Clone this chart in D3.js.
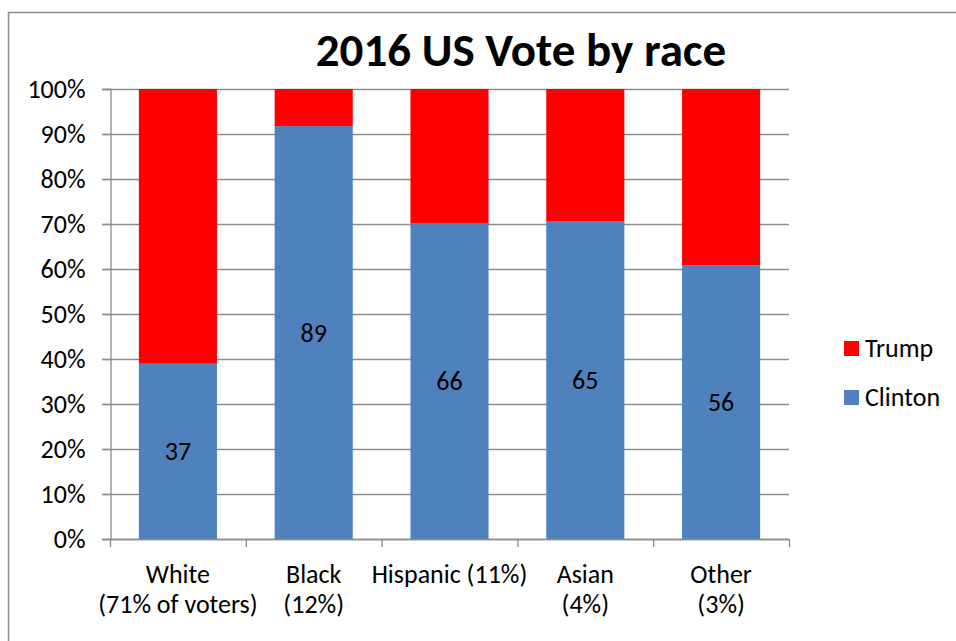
<!DOCTYPE html>
<html>
<head>
<meta charset="utf-8">
<script src="https://cdn.jsdelivr.net/npm/d3@7"></script>
<style>
  html, body { margin: 0; padding: 0; background: #fff; }
  svg { display: block; }
  text { font-family: Calibri, Carlito, Lato, "Open Sans", sans-serif; fill: #000; }
</style>
</head>
<body>
<svg id="chart" width="956" height="641"></svg>
<script>
// ---- data ----
const categories = ["White", "Black", "Hispanic", "Asian", "Other"];
const categoryLabels = [
  ["White", "(71% of voters)"],
  ["Black", "(12%)"],
  ["Hispanic (11%)"],
  ["Asian", "(4%)"],
  ["Other", "(3%)"]
];
const clinton = [37, 89, 66, 65, 56];
const trump = [58, 8, 28, 27, 36];
const seriesNames = ["Clinton", "Trump"];
const seriesColors = ["#4F81BD", "#FF0000"];
const yTicks = [0, 0.1, 0.2, 0.3, 0.4, 0.5, 0.6, 0.7, 0.8, 0.9, 1.0];
const title = "2016 US Vote by race";

// ---- layout ----
const svg = d3.select("#chart");
const plot = { left: 110, right: 789, top: 89, bottom: 539 };
const FONT = 26;

// outer frame (cropped at right/bottom)
svg.append("rect")
  .attr("x", 8.5).attr("y", 12.5)
  .attr("width", 1000).attr("height", 700)
  .attr("fill", "none").attr("stroke", "#8c8c8c").attr("stroke-width", 1.5);

const x = d3.scaleBand().domain(categories)
  .range([plot.left, plot.right])
  .paddingInner(0.425).paddingOuter(0.2125);
const y = d3.scaleLinear().domain([0, 1]).range([plot.bottom, plot.top]);

// gridlines
svg.append("g").selectAll("line").data(yTicks).join("line")
  .attr("x1", plot.left - 8).attr("x2", plot.right)
  .attr("y1", d => Math.round(y(d)) + 0.5).attr("y2", d => Math.round(y(d)) + 0.5)
  .attr("stroke", "#8c8c8c").attr("stroke-width", 1.3);

// y axis
const yAxis = svg.append("g")
  .attr("transform", `translate(${plot.left + 0.5},0)`)
  .call(d3.axisLeft(y).tickValues(yTicks).tickFormat(d3.format(".0%")).tickSize(8).tickPadding(17));
yAxis.select(".domain").attr("stroke", "#8c8c8c").attr("stroke-width", 1.3);
yAxis.selectAll(".tick line").attr("stroke", "#8c8c8c").attr("stroke-width", 1.3);
yAxis.selectAll(".tick text")
  .style("font-family", "Calibri, Carlito, Lato, sans-serif")
  .style("font-size", FONT + "px").attr("fill", "#000");

// stacked data
const rows = categories.map((c, i) => {
  const tot = clinton[i] + trump[i];
  return { cat: c, Clinton: clinton[i] / tot, Trump: trump[i] / tot, cv: clinton[i] };
});
const stack = d3.stack().keys(seriesNames)(rows);
const color = d3.scaleOrdinal().domain(seriesNames).range(seriesColors);

svg.append("g").selectAll("g").data(stack).join("g")
  .attr("fill", d => color(d.key))
  .selectAll("rect").data(d => d).join("rect")
  .attr("x", d => x(d.data.cat))
  .attr("width", x.bandwidth())
  .attr("y", d => y(d[1]))
  .attr("height", d => y(d[0]) - y(d[1]));

// x axis line and category separators
const step = x.step();
svg.append("line")
  .attr("x1", plot.left).attr("x2", plot.right)
  .attr("y1", plot.bottom + 0.5).attr("y2", plot.bottom + 0.5)
  .attr("stroke", "#8c8c8c").attr("stroke-width", 1.3);
svg.append("g").selectAll("line").data(d3.range(categories.length + 1)).join("line")
  .attr("x1", i => plot.left + i * step + 0.5).attr("x2", i => plot.left + i * step + 0.5)
  .attr("y1", plot.bottom).attr("y2", plot.bottom + 8)
  .attr("stroke", "#8c8c8c").attr("stroke-width", 1.3);

// category labels
const catG = svg.append("g").selectAll("text").data(categories).join("text")
  .attr("text-anchor", "middle")
  .attr("x", d => x(d) + x.bandwidth() / 2)
  .attr("y", 583)
  .style("font-size", FONT + "px");
catG.each(function(d, i) {
  d3.select(this).selectAll("tspan").data(categoryLabels[i]).join("tspan")
    .attr("x", x(d) + x.bandwidth() / 2)
    .attr("dy", (t, j) => j === 0 ? 0 : 30)
    .text(t => t);
});

// data labels (Clinton)
svg.append("g").selectAll("text").data(stack[0]).join("text")
  .attr("text-anchor", "middle")
  .attr("x", d => x(d.data.cat) + x.bandwidth() / 2)
  .attr("y", d => (y(d[0]) + y(d[1])) / 2)
  .attr("dy", "0.35em")
  .style("font-size", FONT + "px")
  .text(d => d.data.cv);

// title
svg.append("text")
  .attr("x", 521).attr("y", 66)
  .attr("text-anchor", "middle")
  .style("font-size", "47px").style("font-weight", "bold")
  .text(title);

// legend (Trump on top)
const legendItems = seriesNames.slice().reverse();
const lg = svg.append("g").selectAll("g").data(legendItems).join("g")
  .attr("transform", (d, i) => `translate(844,${341 + i * 49})`);
lg.append("rect").attr("width", 15).attr("height", 15).attr("fill", d => color(d));
lg.append("text").attr("x", 21).attr("y", 16)
  .style("font-size", FONT + "px").text(d => d);
</script>
</body>
</html>
